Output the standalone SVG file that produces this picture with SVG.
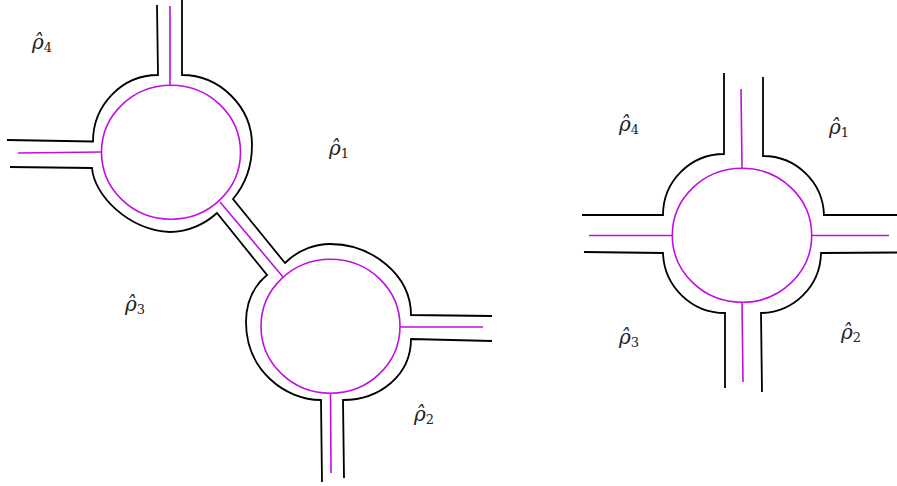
<svg xmlns="http://www.w3.org/2000/svg" width="897" height="486" viewBox="0 0 897 486">
<style>
.b{fill:none;stroke:#000;stroke-width:1.8;stroke-linejoin:miter}
.m{fill:none;stroke:#c010e0;stroke-width:1.6}
.lab{font-family:"DejaVu Serif","Liberation Serif",serif;font-style:italic;font-size:20px;fill:#222}
.sub{font-family:"DejaVu Serif","Liberation Serif",serif;font-style:normal;font-size:13px}
</style>
<rect width="897" height="486" fill="#fff"/>
<g id="left-diagram">
<g id="node-vertex1">
<ellipse class="m" cx="171" cy="152.3" rx="69.5" ry="67"/>
</g>
<g id="node-vertex2">
<ellipse class="m" cx="330.5" cy="326.3" rx="69.5" ry="67"/>
</g>
<g id="connectors-left">
<path class="b" d="M7,140 L93,141.5 C93,105 122,75 158,75 L157,5"/>
<path class="b" d="M182,0 L182,75 C220,75 252,107 252,145 C252,168 244,186 233,199 L285,263 C300,248 318,244 330,244 C372,244 411,275 411,315 L492,316"/>
<path class="b" d="M492,341 L411,339 C411,375 380,400 343,400 L344,478"/>
<path class="b" d="M322,482 L321,400 C285,400 246,370 246,322 C246,300 255,285 267,275 L217,213 C205,224 188,232 170,232 C128,230 94,195 92,168 L10,167"/>
<path class="m" d="M170,6 L170,85 M18,153 L101.5,152 M220,202 L283,277 M330.5,393 L331,473 M400,327 L483,327"/>
</g>
<g id="labels-left">
<text class="lab" x="32" y="49">ρ̂<tspan class="sub" dy="3">4</tspan></text>
<text class="lab" x="329" y="155">ρ̂<tspan class="sub" dy="3">1</tspan></text>
<text class="lab" x="125" y="311">ρ̂<tspan class="sub" dy="3">3</tspan></text>
<text class="lab" x="414" y="421">ρ̂<tspan class="sub" dy="3">2</tspan></text>
</g>
</g>
<g id="right-diagram">
<g id="node-vertex">
<ellipse class="m" cx="742" cy="235.3" rx="69.7" ry="67"/>
</g>
<g id="connectors-right">
<path class="b" d="M724,73 L724,154 A61,61 0 0 0 663,215 L582,215"/>
<path class="b" d="M763,77 L763,156 A61,61 0 0 1 824,215 L897,215"/>
<path class="b" d="M897,252.5 L821,253 A61,61 0 0 1 761,313 L762,392"/>
<path class="b" d="M725,388 L725,313 A62,62 0 0 1 663,253 L584,252"/>
<path class="m" d="M741,89 L742,168 M589,235.5 L672,235.5 M742,302 L743,382 M812,235.5 L889,235.5"/>
</g>
<g id="labels-right">
<text class="lab" x="619" y="131">ρ̂<tspan class="sub" dy="3">4</tspan></text>
<text class="lab" x="829" y="134">ρ̂<tspan class="sub" dy="3">1</tspan></text>
<text class="lab" x="619" y="344">ρ̂<tspan class="sub" dy="3">3</tspan></text>
<text class="lab" x="841" y="339">ρ̂<tspan class="sub" dy="3">2</tspan></text>
</g>
</g>
</svg>
